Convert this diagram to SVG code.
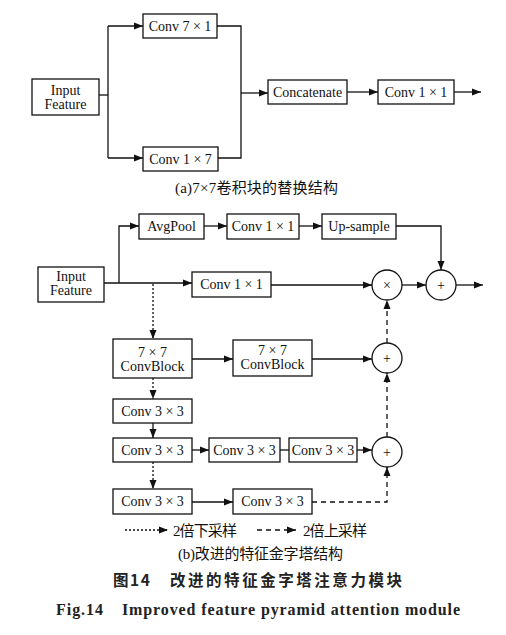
<svg xmlns="http://www.w3.org/2000/svg" width="506" height="635" viewBox="0 0 506 635">
<style>
.b{fill:#fff;stroke:#111;stroke-width:1.3}
.t{font-family:"Liberation Serif","Noto Sans CJK SC",serif;font-size:14px;fill:#111;text-anchor:middle}
.l{fill:none;stroke:#111;stroke-width:1.3}
.a{marker-end:url(#arr)}
.dot{stroke-dasharray:2,2}
.dash{stroke-dasharray:5,4}
.cap{font-family:"Liberation Serif","Noto Sans CJK SC",serif;font-size:15px;fill:#111}
.tt{font-family:"Noto Sans CJK SC",sans-serif;font-size:15.5px;font-weight:bold;fill:#222}
.ft{font-family:"Liberation Serif",serif;font-size:16px;font-weight:bold;fill:#222}
</style>
<defs>
<marker id="arr" markerUnits="userSpaceOnUse" markerWidth="10" markerHeight="8" refX="9" refY="4" orient="auto">
<path d="M0,0.5 L9,4 L0,7.5 z" fill="#111"/>
</marker>
</defs>
<rect width="506" height="635" fill="#fff"/>

<g id="connectors">
<!-- (a) -->
<path class="l" d="M99,95 H108"/>
<path class="l" d="M108,26 V158"/>
<path class="l a" d="M108,26 H143"/>
<path class="l a" d="M108,158 H143"/>
<path class="l" d="M217,26 H241 V158 H218"/>
<path class="l a" d="M241,93 H268"/>
<path class="l a" d="M347,92 H378"/>
<path class="l a" d="M454,92 H481"/>
<!-- (b) -->
<path class="l a" d="M104,283 H192"/>
<path class="l a" d="M119,283 V226 H139"/>
<path class="l a" d="M204,226 H227"/>
<path class="l a" d="M299,226 H322"/>
<path class="l a" d="M396,226 H441 V270"/>
<path class="l a" d="M271,285 H372"/>
<path class="l a" d="M402,285 H426"/>
<path class="l a" d="M456,285 H483"/>
<path class="l a dot" d="M153,284 V339"/>
<path class="l a" d="M192,359 H233"/>
<path class="l a" d="M312,359 H372"/>
<path class="l a dash" d="M387,343 V300"/>
<path class="l a dot" d="M153,378 V399"/>
<path class="l a" d="M153,423 V438"/>
<path class="l a" d="M192,450 H209"/>
<path class="l" d="M280,450 H289"/>
<path class="l a" d="M357,450 H372"/>
<path class="l a dash" d="M387,437 V373"/>
<path class="l a dot" d="M153,462 V489"/>
<path class="l a" d="M192,502 H233"/>
<path class="l a dash" d="M312,502 H387 V467"/>
<!-- legend -->
<path class="l a dot" d="M125,530 H168"/>
<path class="l a dash" d="M257,530 H296"/>
</g>

<!-- (a) nodes -->
<g id="a-input"><rect class="b" x="32" y="79" width="67" height="36"/><text class="t" x="65.5" y="95">Input</text><text class="t" x="65.5" y="109">Feature</text></g>
<g id="a-conv71"><rect class="b" x="143" y="14" width="74" height="24"/><text class="t" x="180" y="31">Conv 7 × 1</text></g>
<g id="a-conv17"><rect class="b" x="143" y="147" width="75" height="24"/><text class="t" x="180.5" y="164">Conv 1 × 7</text></g>
<g id="a-concat"><rect class="b" x="268" y="80" width="79" height="24"/><text class="t" x="307.5" y="97">Concatenate</text></g>
<g id="a-conv11"><rect class="b" x="378" y="80" width="76" height="24"/><text class="t" x="416" y="97">Conv 1 × 1</text></g>
<text class="cap" x="175" y="193" textLength="163" lengthAdjust="spacing">(a)7×7卷积块的替换结构</text>

<!-- (b) nodes -->
<g id="b-avgpool"><rect class="b" x="139" y="214" width="65" height="25"/><text class="t" x="171.5" y="231">AvgPool</text></g>
<g id="b-conv11top"><rect class="b" x="227" y="214" width="72" height="25"/><text class="t" x="263" y="231">Conv 1 × 1</text></g>
<g id="b-upsample"><rect class="b" x="322" y="214" width="74" height="25"/><text class="t" x="359" y="231">Up-sample</text></g>
<g id="b-input"><rect class="b" x="38" y="267" width="66" height="35"/><text class="t" x="71" y="281">Input</text><text class="t" x="71" y="295">Feature</text></g>
<g id="b-conv11"><rect class="b" x="192" y="272" width="79" height="25"/><text class="t" x="231.5" y="289">Conv 1 × 1</text></g>
<g id="b-mul"><circle class="b" cx="387" cy="285" r="15"/><text class="t" x="387" y="290">×</text></g>
<g id="b-add1"><circle class="b" cx="441" cy="285" r="15"/><text class="t" x="441" y="290">+</text></g>
<g id="b-cb1"><rect class="b" x="113" y="339" width="79" height="39"/><text class="t" x="152.5" y="357">7 × 7</text><text class="t" x="152.5" y="371">ConvBlock</text></g>
<g id="b-cb2"><rect class="b" x="233" y="340" width="79" height="36"/><text class="t" x="272.5" y="355">7 × 7</text><text class="t" x="272.5" y="369">ConvBlock</text></g>
<g id="b-add2"><circle class="b" cx="387" cy="358" r="15"/><text class="t" x="387" y="363">+</text></g>
<g id="b-c1"><rect class="b" x="113" y="399" width="79" height="24"/><text class="t" x="152.5" y="416">Conv 3 × 3</text></g>
<g id="b-c2"><rect class="b" x="113" y="438" width="79" height="24"/><text class="t" x="152.5" y="455">Conv 3 × 3</text></g>
<g id="b-c3"><rect class="b" x="209" y="438" width="71" height="24"/><text class="t" x="244.5" y="455">Conv 3 × 3</text></g>
<g id="b-c4"><rect class="b" x="289" y="438" width="68" height="24"/><text class="t" x="323" y="455">Conv 3 × 3</text></g>
<g id="b-add3"><circle class="b" cx="387" cy="452" r="15"/><text class="t" x="387" y="457">+</text></g>
<g id="b-c5"><rect class="b" x="113" y="489" width="79" height="25"/><text class="t" x="152.5" y="506">Conv 3 × 3</text></g>
<g id="b-c6"><rect class="b" x="233" y="489" width="79" height="25"/><text class="t" x="272.5" y="506">Conv 3 × 3</text></g>

<text class="cap" x="173" y="536" textLength="64" lengthAdjust="spacing">2倍下采样</text>
<text class="cap" x="303" y="536" textLength="64" lengthAdjust="spacing">2倍上采样</text>
<text class="cap" x="178" y="559" textLength="165" lengthAdjust="spacing">(b)改进的特征金字塔结构</text>

<text class="tt" x="113" y="586" textLength="37" lengthAdjust="spacing">图14</text>
<text class="tt" x="170" y="586" textLength="232" lengthAdjust="spacing">改进的特征金字塔注意力模块</text>
<text class="ft" x="56" y="615" textLength="47" lengthAdjust="spacing">Fig.14</text>
<text class="ft" x="122" y="615" textLength="338" lengthAdjust="spacing">Improved feature pyramid attention module</text>
</svg>
